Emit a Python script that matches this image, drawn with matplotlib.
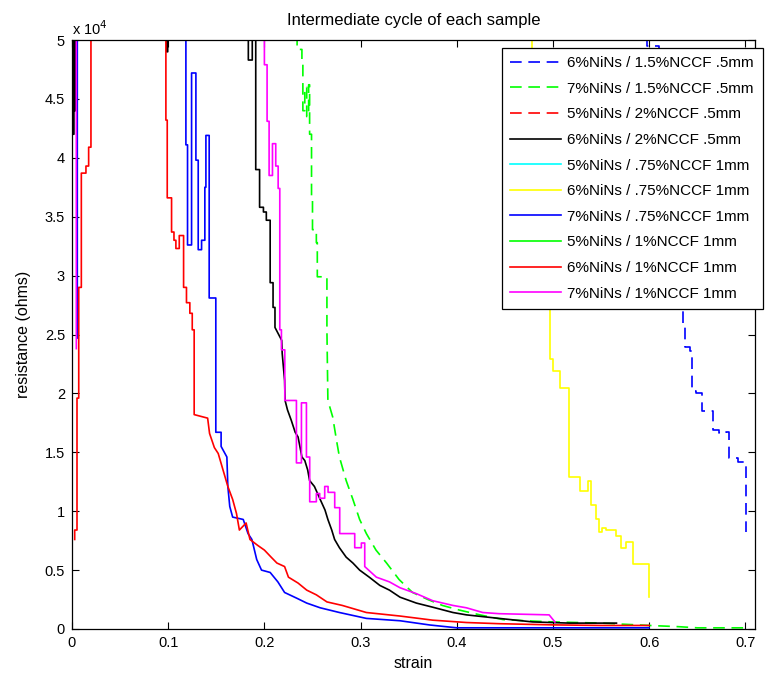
import matplotlib
matplotlib.use("Agg")
import matplotlib.pyplot as plt

plt.rcParams['font.family'] = ['Liberation Sans', 'DejaVu Sans']

# ---------------- data (strain, resistance in ohms) ----------------
# each series: a stepped head (steps-post read-off corners) and a smooth tail
labels = [
    "6%NiNs / 1.5%NCCF .5mm",
    "7%NiNs / 1.5%NCCF .5mm",
    "5%NiNs / 2%NCCF .5mm",
    "6%NiNs / 2%NCCF .5mm",
    "5%NiNs / .75%NCCF 1mm",
    "6%NiNs / .75%NCCF 1mm",
    "7%NiNs / .75%NCCF 1mm",
    "5%NiNs / 1%NCCF 1mm",
    "6%NiNs / 1%NCCF 1mm",
    "7%NiNs / 1%NCCF 1mm",
]

s1_step_x = [0.598, 0.598, 0.610, 0.620, 0.628, 0.633, 0.635, 0.637, 0.642, 0.644, 0.649, 0.655,
             0.666, 0.673, 0.680, 0.683, 0.692, 0.701, 0.701]
s1_step_y = [56000, 49500, 43000, 37000, 31000, 27200, 25900, 23900, 23600, 20200, 20000, 18500,
             16900, 16600, 16700, 14500, 14200, 14000, 8200]
s1_tail_x = []
s1_tail_y = []

s2_step_x = [0.233, 0.234, 0.239, 0.239, 0.240, 0.242, 0.244, 0.246, 0.247, 0.249, 0.250, 0.254,
             0.255, 0.265, 0.265]
s2_step_y = [52000, 49200, 48700, 48000, 44000, 46000, 43500, 46200, 42000, 36700, 33900, 32800,
             29900, 29500, 25400]
s2_tail_x = [0.266, 0.271, 0.275, 0.278, 0.285, 0.292, 0.299, 0.306, 0.316, 0.327, 0.340, 0.354,
             0.370, 0.385, 0.403, 0.424, 0.448, 0.472, 0.500, 0.550, 0.600, 0.630, 0.650, 0.700]
s2_tail_y = [19400, 18000, 16000, 14600, 12600, 11000, 9300, 8100, 6700, 5600, 4200, 3100,
             2500, 2000, 1600, 1200, 800, 700, 600, 500, 300, 200, 100, 100]

s3_step_x = []
s3_step_y = []
s3_tail_x = []
s3_tail_y = []

s4_step_x = [0.0005, 0.0005, 0.002, 0.003, 0.004, 0.0985, 0.0995, 0.1833, 0.1874, 0.191, 0.195,
             0.199, 0.202, 0.206, 0.209, 0.211]
s4_step_y = [56000, 42000, 56000, 44000, 56000, 49000, 56000, 48300, 56000, 39000, 35800,
             35400, 34700, 29400, 27300, 25600]
s4_tail_x = [0.218, 0.2185, 0.221, 0.2215, 0.224, 0.228, 0.232, 0.235, 0.239, 0.242, 0.245,
             0.247, 0.252, 0.258, 0.263, 0.266, 0.270, 0.273, 0.278, 0.285, 0.292, 0.299, 0.309,
             0.320, 0.330, 0.341, 0.358, 0.375, 0.396, 0.410, 0.444, 0.479, 0.517, 0.566]
s4_tail_y = [24500, 23400, 21100, 19400, 18600, 17700, 16700, 16300, 14600, 14300, 13500,
             12600, 12100, 11000, 10100, 9300, 8400, 7600, 6900, 6100, 5600, 5000, 4400,
             3700, 3300, 2700, 2200, 1850, 1400, 1200, 900, 600, 500, 500]

s5_step_x = []
s5_step_y = []
s5_tail_x = []
s5_tail_y = []

s6_step_x = [0.476, 0.478, 0.483, 0.489, 0.494, 0.497, 0.500, 0.507, 0.517, 0.528, 0.536, 0.540,
             0.545, 0.548, 0.551, 0.555, 0.566, 0.571, 0.576, 0.583, 0.600, 0.600]
s6_step_y = [56000, 46000, 40000, 34000, 27200, 22900, 21900, 20500, 12900, 11700, 12600, 10500,
             9300, 8200, 8600, 8400, 7900, 6900, 7400, 5500, 5200, 2700]
s6_tail_x = []
s6_tail_y = []

s7_step_x = [0.0055, 0.0055, 0.1184, 0.1201, 0.1243, 0.1288, 0.1312, 0.1347, 0.1381, 0.1392,
             0.1426, 0.1495, 0.155]
s7_step_y = [24700, 56000, 41100, 32600, 47200, 39800, 32200, 33000, 37500, 41900,
             28100, 16700, 15500]
s7_tail_x = [0.161, 0.162, 0.164, 0.167, 0.178, 0.183, 0.187, 0.192, 0.197,
             0.206, 0.214, 0.221, 0.234, 0.244, 0.258, 0.278, 0.306, 0.341, 0.372, 0.400, 0.600]
s7_tail_y = [14600, 12100, 10400, 9500, 9300, 8100, 7600, 5900, 5000,
             4800, 4000, 3100, 2600, 2200, 1800, 1400, 900, 700, 340, 100, 100]

s8_step_x = []
s8_step_y = []
s8_tail_x = []
s8_tail_y = []

s9_step_x = [0.0028, 0.0028, 0.0052, 0.0070, 0.0097, 0.0145, 0.0173, 0.0197, 0.0976, 0.0990,
             0.1035, 0.106, 0.108, 0.1115, 0.116, 0.119, 0.1225, 0.125, 0.127]
s9_step_y = [7600, 8400, 19600, 29000, 38700, 39300, 40900, 56000, 43200, 36600,
             33700, 33000, 32300, 33400, 29000, 27700, 26800, 25400, 18200]
s9_tail_x = [0.141, 0.143, 0.148, 0.152, 0.157, 0.162, 0.167, 0.171, 0.174, 0.181, 0.185,
             0.193, 0.200, 0.207, 0.213, 0.221, 0.225, 0.235, 0.244, 0.254, 0.265, 0.281, 0.306,
             0.341, 0.375, 0.410, 0.444, 0.500, 0.550, 0.600]
s9_tail_y = [17900, 16600, 15400, 14900, 13500, 12100, 11000, 9800, 8400, 9000, 7600,
             7100, 6700, 6100, 5600, 5300, 4400, 3900, 3300, 2900, 2300, 2000, 1400,
             1100, 750, 550, 450, 350, 300, 300]

s10_step_x = [0.0045, 0.0045, 0.2000, 0.2028, 0.2049, 0.2084, 0.2118, 0.2143, 0.2160, 0.2177,
              0.2212, 0.2333, 0.2385, 0.2437, 0.2471, 0.2540, 0.2575, 0.2627, 0.2662, 0.2731,
              0.2783, 0.2939, 0.3008, 0.3043]
s10_step_y = [23800, 56000, 47900, 43100, 38500, 41200, 39300, 37400, 25400, 23700,
              19400, 14100, 19200, 14600, 10800, 11500, 11100, 12100, 11600, 10300,
              8100, 6900, 7300, 5300]
s10_tail_x = [0.3164, 0.330, 0.341, 0.358, 0.375, 0.396, 0.410, 0.427, 0.444, 0.496, 0.502]
s10_tail_y = [4400, 4000, 3500, 3000, 2400, 2000, 1800, 1400, 1300, 1200, 600]

xticks = [0, 0.1, 0.2, 0.3, 0.4, 0.5, 0.6, 0.7]
xtick_labels = ["0", "0.1", "0.2", "0.3", "0.4", "0.5", "0.6", "0.7"]
yticks = [0, 5000, 10000, 15000, 20000, 25000, 30000, 35000, 40000, 45000, 50000]
ytick_labels = ["0", "0.5", "1", "1.5", "2", "2.5", "3", "3.5", "4", "4.5", "5"]

series = [
    (s1_step_x, s1_step_y, s1_tail_x, s1_tail_y, (0, 0, 1), '--'),
    (s2_step_x, s2_step_y, s2_tail_x, s2_tail_y, (0, 1, 0), '--'),
    (s3_step_x, s3_step_y, s3_tail_x, s3_tail_y, (1, 0, 0), '--'),
    (s4_step_x, s4_step_y, s4_tail_x, s4_tail_y, (0, 0, 0), '-'),
    (s5_step_x, s5_step_y, s5_tail_x, s5_tail_y, (0, 1, 1), '-'),
    (s6_step_x, s6_step_y, s6_tail_x, s6_tail_y, (1, 1, 0), '-'),
    (s7_step_x, s7_step_y, s7_tail_x, s7_tail_y, (0, 0, 1), '-'),
    (s8_step_x, s8_step_y, s8_tail_x, s8_tail_y, (0, 1, 0), '-'),
    (s9_step_x, s9_step_y, s9_tail_x, s9_tail_y, (1, 0, 0), '-'),
    (s10_step_x, s10_step_y, s10_tail_x, s10_tail_y, (1, 0, 1), '-'),
]


def build_path(sx, sy, tx, ty):
    """Expand the steps-post head into explicit corners, then append the tail."""
    px, py = [], []
    for i, (x, y) in enumerate(zip(sx, sy)):
        if i > 0:
            px.append(x)
            py.append(sy[i - 1])
        px.append(x)
        py.append(y)
    return px + list(tx), py + list(ty)


fig = plt.figure(figsize=(7.83, 6.82), dpi=100)
ax = fig.add_axes([72 / 783, 1 - 629 / 682, 683 / 783, 589 / 682])

for (sx, sy, tx, ty, col, ls), lab in zip(series, labels):
    xs, ys = build_path(sx, sy, tx, ty)
    kw = dict(color=col, lw=1.2, label=lab)
    if ls == '--':
        kw['dashes'] = (7, 4)
    ax.plot(xs, ys, **kw)

ax.set_xlim(0, 0.71)
ax.set_ylim(0, 50000)
ax.set_xticks(xticks)
ax.set_xticklabels(xtick_labels)
ax.set_yticks(yticks)
ax.set_yticklabels(ytick_labels)
ax.tick_params(direction='in', length=5, width=0.8, top=True, right=True,
               labelsize=10.5, colors='black', pad=5)
for sp in ax.spines.values():
    sp.set_linewidth(0.9)

ax.text(0.0, 1.004, r'x 10$^{4}$', transform=ax.transAxes, ha='left', va='bottom',
        fontsize=10.5)
ax.set_title("Intermediate cycle of each sample", fontsize=12, pad=11)
ax.set_xlabel("strain", fontsize=11.5)
ax.set_ylabel("resistance (ohms)", fontsize=11.5, labelpad=10)

leg = ax.legend(loc='upper right', bbox_to_anchor=(1.011, 0.987), fontsize=11,
                handlelength=3.3, labelspacing=0.76, borderpad=0.55, handletextpad=0.45,
                fancybox=False, framealpha=1, edgecolor='black', borderaxespad=0)
leg.get_frame().set_linewidth(0.9)

fig.savefig("out.png", dpi=100)
